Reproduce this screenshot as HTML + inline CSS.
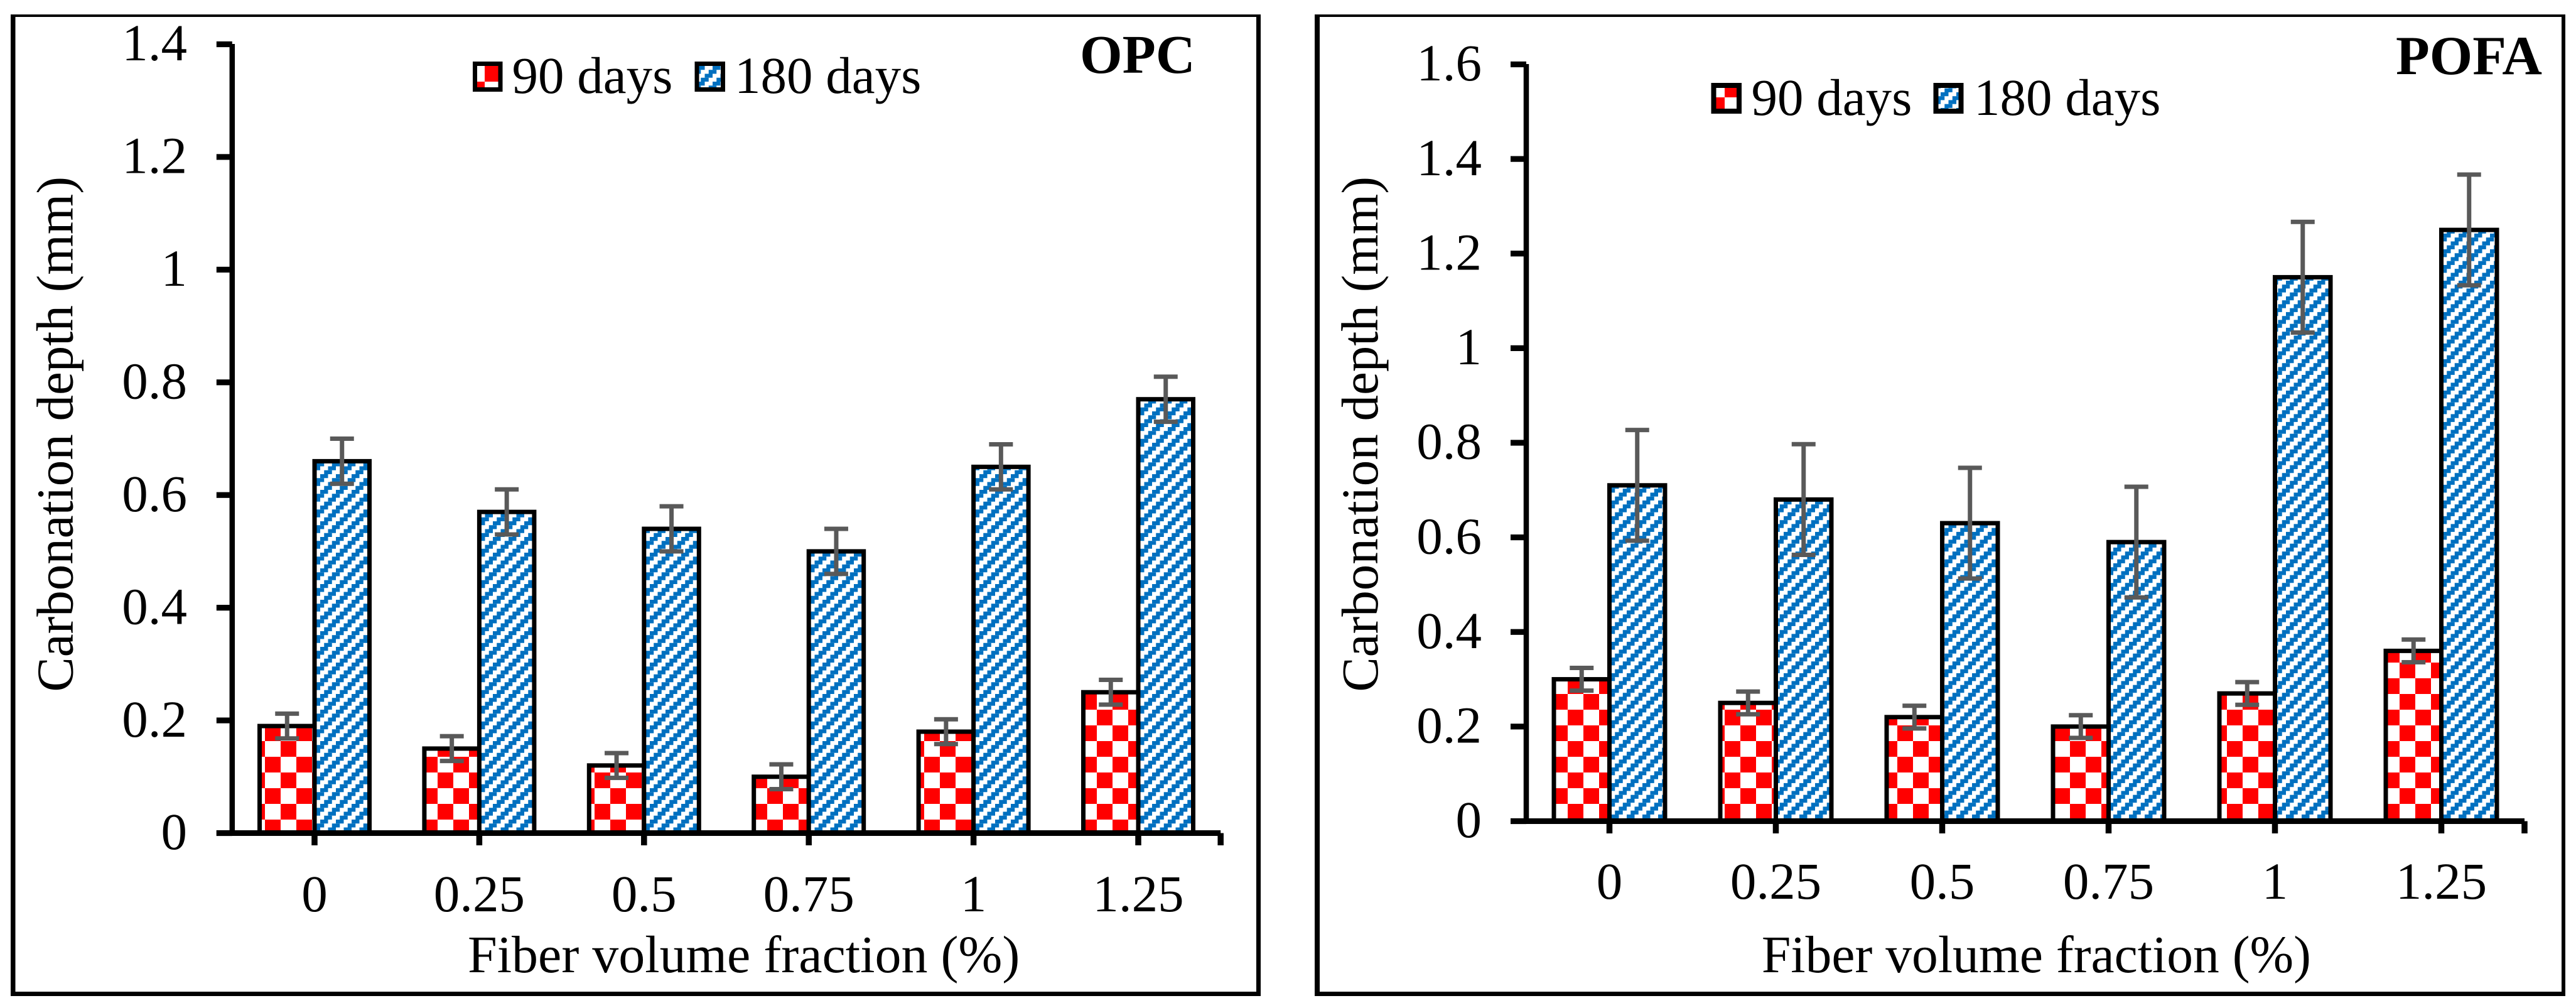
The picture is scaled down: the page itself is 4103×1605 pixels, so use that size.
<!DOCTYPE html>
<html lang="en">
<head>
<meta charset="utf-8">
<title>Carbonation depth vs fiber volume fraction</title>
<style>
html,body{margin:0;padding:0;background:#fff;}
svg{display:block;}
text{font-family:"Liberation Serif","Times New Roman",serif;fill:#000;}
</style>
</head>
<body>
<svg id="figure" xmlns="http://www.w3.org/2000/svg" width="4103" height="1605" viewBox="0 0 4103 1605">
  <defs>
    <pattern id="check-opc" patternUnits="userSpaceOnUse" x="422" y="1205" width="50" height="50">
      <rect width="50" height="50" fill="#fff"/>
      <rect width="25" height="25" fill="#f00"/>
      <rect x="25" y="25" width="25" height="25" fill="#f00"/>
    </pattern>
    <pattern id="check-pofa" patternUnits="userSpaceOnUse" x="3547" y="1130" width="50" height="50">
      <rect width="50" height="50" fill="#fff"/>
      <rect width="25" height="25" fill="#f00"/>
      <rect x="25" y="25" width="25" height="25" fill="#f00"/>
    </pattern>
    <pattern id="diag-opc" patternUnits="userSpaceOnUse" x="510" y="1230" width="25" height="25">
      <rect width="25" height="25" fill="#fff"/>
      <rect x="0" y="0" width="12.5" height="6.25" fill="#0070c0"/>
      <rect x="18.75" y="6.25" width="6.25" height="6.25" fill="#0070c0"/>
      <rect x="0" y="6.25" width="6.25" height="6.25" fill="#0070c0"/>
      <rect x="12.5" y="12.5" width="12.5" height="6.25" fill="#0070c0"/>
      <rect x="6.25" y="18.75" width="12.5" height="6.25" fill="#0070c0"/>
    </pattern>
    <pattern id="diag-pofa" patternUnits="userSpaceOnUse" x="2591" y="1296.9" width="25" height="25">
      <rect width="25" height="25" fill="#fff"/>
      <rect x="0" y="0" width="12.5" height="6.25" fill="#0070c0"/>
      <rect x="18.75" y="6.25" width="6.25" height="6.25" fill="#0070c0"/>
      <rect x="0" y="6.25" width="6.25" height="6.25" fill="#0070c0"/>
      <rect x="12.5" y="12.5" width="12.5" height="6.25" fill="#0070c0"/>
      <rect x="6.25" y="18.75" width="12.5" height="6.25" fill="#0070c0"/>
    </pattern>
  </defs>

  <g id="panel-opc">
    <g fill="#000">
      <rect x="17" y="23" width="1991" height="4"/>
      <rect x="17" y="23" width="7.5" height="1563"/>
      <rect x="2001" y="23" width="7" height="1563"/>
      <rect x="17" y="1579" width="1991" height="7"/>
    </g>
    <g id="marks-opc"></g>
    <text font-size="83" text-anchor="end" transform="translate(115.6,281) rotate(-90)">Carbonation depth (mm)</text>
    <text font-size="84" x="745" y="1548">Fiber volume fraction (%)</text>
    <text font-size="87" font-weight="bold" x="1720" y="116">OPC</text>
    <g>
      <g>
        <rect x="756.5" y="101.5" width="40.5" height="41" fill="url(#check-opc)" stroke="#000" stroke-width="7"/>
        <text font-size="83" x="815.5" y="148">90 days</text>
      </g>
      <g>
        <rect x="1110" y="101.5" width="41.5" height="41" fill="url(#diag-opc)" stroke="#000" stroke-width="7"/>
        <text font-size="83" x="1170" y="148">180 days</text>
      </g>
    </g>
  </g>

  <g id="panel-pofa">
    <g fill="#000">
      <rect x="2094" y="23" width="1992" height="4"/>
      <rect x="2094" y="23" width="8" height="1563"/>
      <rect x="4080" y="23" width="6" height="1563"/>
      <rect x="2094" y="1579" width="1992" height="7"/>
    </g>
    <g id="marks-pofa"></g>
    <text font-size="83" text-anchor="end" transform="translate(2194,281) rotate(-90)">Carbonation depth (mm)</text>
    <text font-size="83.6" text-anchor="end" x="3681" y="1548">Fiber volume fraction (%)</text>
    <text font-size="88" font-weight="bold" x="3816" y="118">POFA</text>
    <g>
      <g>
        <rect x="2729.5" y="136" width="40.5" height="41" fill="url(#check-pofa)" stroke="#000" stroke-width="8"/>
        <text font-size="83" x="2789.5" y="183">90 days</text>
      </g>
      <g>
        <rect x="3083.5" y="136" width="40" height="41" fill="url(#diag-pofa)" stroke="#000" stroke-width="8"/>
        <text font-size="83" x="3144" y="183">180 days</text>
      </g>
    </g>
  </g>
</svg>

<script>
// Shared category labels
const fiberCategories = ['0', '0.25', '0.5', '0.75', '1', '1.25'];

// OPC panel data
const opcYTicks = [0, 0.2, 0.4, 0.6, 0.8, 1, 1.2, 1.4];
const opc90Days = [0.19, 0.15, 0.12, 0.10, 0.18, 0.25];
const opc180Days = [0.66, 0.57, 0.54, 0.50, 0.65, 0.77];
const opc90Err = [0.022, 0.022, 0.022, 0.022, 0.022, 0.022];
const opc180Err = [0.04, 0.04, 0.04, 0.04, 0.04, 0.04];

// POFA panel data
const pofaYTicks = [0, 0.2, 0.4, 0.6, 0.8, 1, 1.2, 1.4, 1.6];
const pofa90Days = [0.30, 0.25, 0.22, 0.20, 0.27, 0.36];
const pofa180Days = [0.71, 0.68, 0.63, 0.59, 1.15, 1.25];
const pofa90Err = [0.024, 0.024, 0.024, 0.024, 0.024, 0.024];
const pofa180Err = [0.117, 0.117, 0.117, 0.117, 0.117, 0.117];

const SVG_NS = 'http://www.w3.org/2000/svg';

function makeRect(parent, x, y, w, h, fill) {
  const r = document.createElementNS(SVG_NS, 'rect');
  r.setAttribute('x', x);
  r.setAttribute('y', y);
  r.setAttribute('width', w);
  r.setAttribute('height', h);
  r.setAttribute('fill', fill);
  parent.appendChild(r);
  return r;
}

function makeText(parent, x, y, anchor, content) {
  const t = document.createElementNS(SVG_NS, 'text');
  t.setAttribute('x', x);
  t.setAttribute('y', y);
  t.setAttribute('font-size', '83');
  t.setAttribute('text-anchor', anchor);
  t.textContent = content;
  parent.appendChild(t);
  return t;
}

function drawPanel(host, frame, categories, yTicks, seriesA, seriesB, errA, errB) {
  const yMax = yTicks[yTicks.length - 1];
  const yScale = function (v) {
    return frame.y0 - (v / yMax) * (frame.y0 - frame.yTop);
  };
  const step = frame.xWidth / categories.length;
  const xScale = function (i) {
    return frame.x0 + (i + 0.5) * step;
  };

  // Bars
  categories.forEach(function (cat, i) {
    const cx = xScale(i);
    const barA = document.createElementNS(SVG_NS, 'rect');
    
    
    barA.setAttribute('x', cx - frame.barW);
    barA.setAttribute('y', yScale(seriesA[i]));
    barA.setAttribute('width', frame.barW);
    barA.setAttribute('height', frame.y0 - yScale(seriesA[i]));
    barA.setAttribute('fill', frame.fillA);
    barA.setAttribute('stroke', '#000');
    barA.setAttribute('stroke-width', '7');
    host.appendChild(barA);

    const barB = document.createElementNS(SVG_NS, 'rect');
    
    
    barB.setAttribute('x', cx);
    barB.setAttribute('y', yScale(seriesB[i]));
    barB.setAttribute('width', frame.barW);
    barB.setAttribute('height', frame.y0 - yScale(seriesB[i]));
    barB.setAttribute('fill', frame.fillB);
    barB.setAttribute('stroke', '#000');
    barB.setAttribute('stroke-width', '7');
    host.appendChild(barB);
  });

  // Axis lines
  const yAxis = makeRect(host, frame.x0 - 4.25, frame.yTop - 0.5, 8.5, frame.y0 - frame.yTop + 0.5, '#000');
  
  
  const xAxis = makeRect(host, frame.x0 - 25, frame.y0 - 4.5, frame.xWidth + 25, 9, '#000');
  
  

  // Y ticks and labels
  yTicks.forEach(function (v) {
    const py = yScale(v);
    const tick = makeRect(host, frame.x0 - 25, py - 4.6, 25, 9.2, '#000');
    
    
    const label = makeText(host, frame.yLabelX, py + 25.7, 'end', String(v));
    
    
  });

  // X ticks and labels
  categories.forEach(function (cat, i) {
    const cx = xScale(i);
    const tick = makeRect(host, cx - 4.75, frame.y0, 9.5, 19.5, '#000');
    
    
    const label = makeText(host, cx, frame.xLabelY, 'middle', cat);
    
    
  });
  const endTick = makeRect(host, frame.x0 + frame.xWidth - 4.75, frame.y0, 9.5, 19.5, '#000');
  
  

  // Error bars
  function drawError(cx, value, err, name) {
    const top = yScale(value + err);
    const low = yScale(value - err);
    const g = document.createElementNS(SVG_NS, 'g');
    
    
    makeRect(g, cx - 3.5, top, 7, low - top, '#595959');
    makeRect(g, cx - 19, top - 3.5, 38, 7, '#595959');
    makeRect(g, cx - 19, low - 3.5, 38, 7, '#595959');
    host.appendChild(g);
  }
  categories.forEach(function (cat, i) {
    const cx = xScale(i);
    drawError(cx - frame.barW / 2, seriesA[i], errA[i], 'error-bar-90-days');
    drawError(cx + frame.barW / 2, seriesB[i], errB[i], 'error-bar-180-days');
  });
}

drawPanel(document.getElementById('marks-opc'),
  { x0: 369.8, xWidth: 1574.4, y0: 1326.5, yTop: 70.5, barW: 87.5, yLabelX: 298, xLabelY: 1451,
    fillA: 'url(#check-opc)', fillB: 'url(#diag-opc)' },
  fiberCategories, opcYTicks, opc90Days, opc180Days, opc90Err, opc180Err);

drawPanel(document.getElementById('marks-pofa'),
  { x0: 2431, xWidth: 1590, y0: 1307.5, yTop: 102.5, barW: 88.5, yLabelX: 2360, xLabelY: 1431,
    fillA: 'url(#check-pofa)', fillB: 'url(#diag-pofa)' },
  fiberCategories, pofaYTicks, pofa90Days, pofa180Days, pofa90Err, pofa180Err);
</script>
</body>
</html>
